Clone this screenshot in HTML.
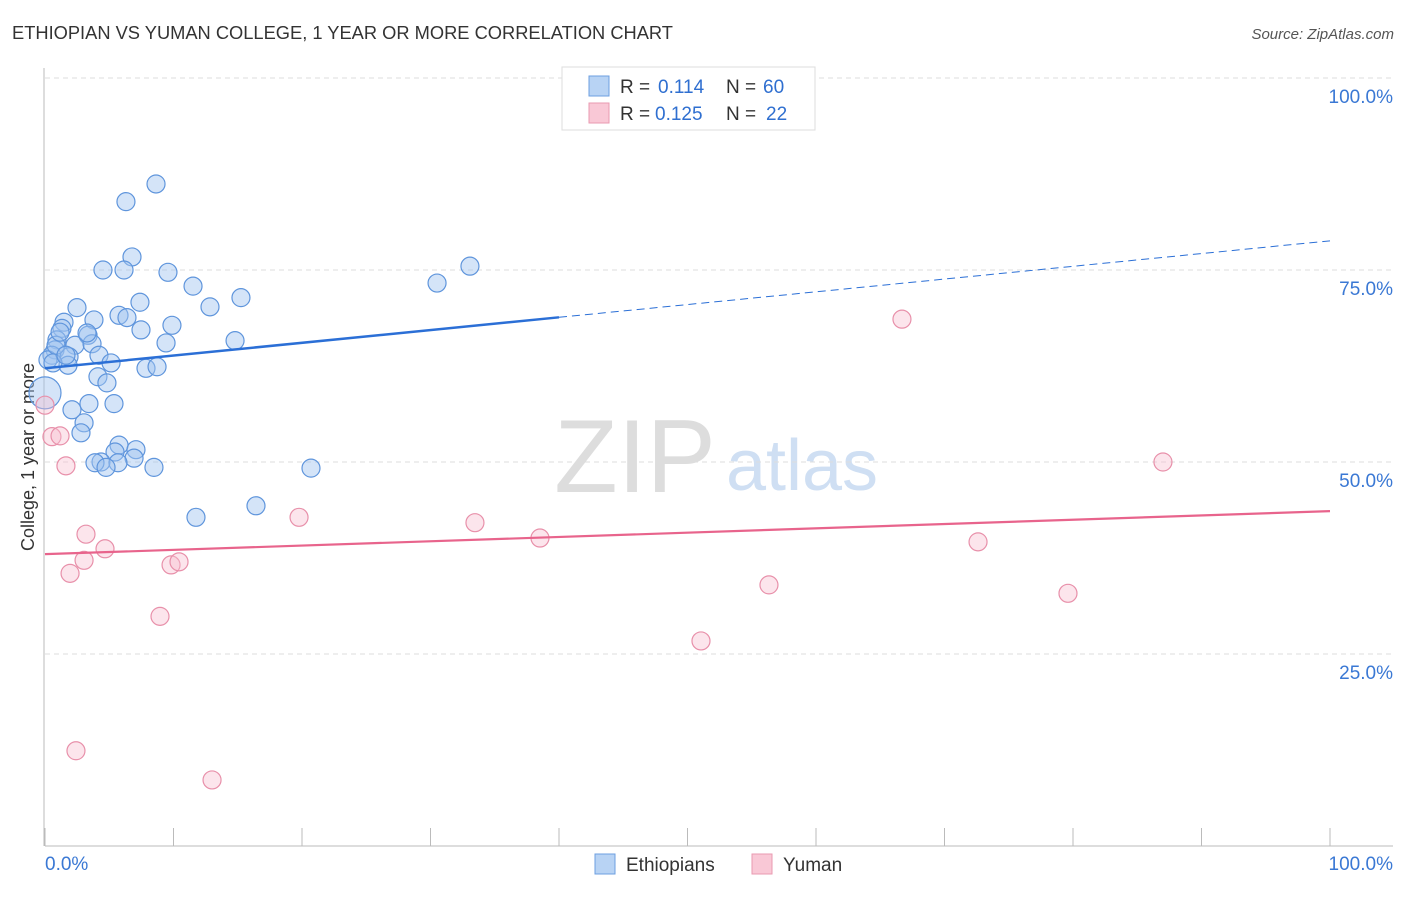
<!DOCTYPE html>
<html><head><meta charset="utf-8"><style>
body{margin:0;background:#fff;font-family:"Liberation Sans",sans-serif}
svg text{font-family:"Liberation Sans",sans-serif}
</style></head><body>
<svg id="c" width="1406" height="892">
<text x="12" y="39" font-size="18.3" fill="#333">ETHIOPIAN VS YUMAN COLLEGE, 1 YEAR OR MORE CORRELATION CHART</text>
<text x="1394" y="39" font-size="15" fill="#555" font-style="italic" text-anchor="end">Source: ZipAtlas.com</text>
<text x="34" y="457" font-size="18" fill="#333" text-anchor="middle" transform="rotate(-90 34 457)">College, 1 year or more</text>
<g><text x="635" y="492" font-size="104" fill="#ddd" font-family="Liberation Serif" text-anchor="middle">ZIP</text><text x="802" y="490" font-size="72" fill="#cfdff3" text-anchor="middle">atlas</text></g>
<g id="grid"></g><g id="marks"></g>
<g>
<rect x="562" y="67" width="253" height="63" fill="#fff" stroke="#ddd"/>
<rect x="589" y="76" width="20" height="20" fill="#b8d3f4" stroke="#6d9fe0"/>
<rect x="589" y="103" width="20" height="20" fill="#f9c8d6" stroke="#e99ab0"/>
<text x="620" y="93" font-size="19" fill="#333">R =</text>
<text x="658" y="93" font-size="19" fill="#2f6fd0">0.114</text>
<text x="726" y="93" font-size="19" fill="#333">N =</text>
<text x="763" y="93" font-size="19" fill="#2f6fd0">60</text>
<text x="620" y="120" font-size="19" fill="#333">R =</text>
<text x="655" y="120" font-size="19" fill="#2f6fd0">0.125</text>
<text x="726" y="120" font-size="19" fill="#333">N =</text>
<text x="766" y="120" font-size="19" fill="#2f6fd0">22</text>
</g>
<g>
<rect x="595" y="854" width="20" height="20" fill="#b8d3f4" stroke="#6d9fe0"/>
<text x="626" y="871" font-size="19" fill="#333">Ethiopians</text>
<rect x="752" y="854" width="20" height="20" fill="#f9c8d6" stroke="#e99ab0"/>
<text x="783" y="871" font-size="19" fill="#333">Yuman</text>
</g>
</svg>
<script>
const blueX=[8.64,6.30,6.77,4.51,6.15,9.57,33.07,30.51,11.52,15.25,7.39,2.49,12.84,5.76,6.38,1.48,3.81,1.32,7.47,9.88,3.35,0.93,14.79,2.33,9.42,3.66,0.78,0.54,4.20,1.87,5.14,1.79,7.86,8.72,4.12,4.82,0,3.42,5.37,2.10,3.04,2.80,5.76,7.08,5.45,6.93,4.36,3.89,5.68,4.75,8.48,20.70,11.75,16.42,0.23,0.86,1.17,3.27,0.62,1.63];
const blueY=[86.2,83.9,76.7,75.0,75.0,74.7,75.5,73.3,72.9,71.4,70.8,70.1,70.2,69.1,68.8,68.2,68.5,67.4,67.2,67.8,66.5,65.9,65.8,65.2,65.5,65.4,64.6,63.9,63.9,63.7,62.9,62.6,62.2,62.4,61.1,60.3,59.0,57.6,57.6,56.8,55.1,53.8,52.2,51.6,51.3,50.5,50.0,49.9,49.9,49.3,49.3,49.2,42.8,44.3,63.3,65.2,66.9,66.8,62.9,63.9];
const pinkX=[0,0.54,1.17,1.63,3.19,4.67,3.04,1.95,9.81,10.43,8.95,2.41,13.0,19.77,33.46,38.52,51.05,56.34,66.69,72.61,79.61,87.0];
const pinkY=[57.4,53.3,53.4,49.5,40.6,38.7,37.2,35.5,36.6,37.0,29.9,12.4,8.6,42.8,42.1,40.1,26.7,34.0,68.6,39.6,32.9,50.0];
const blueTrend=[62.2,78.8];
const pinkTrend=[38.0,43.6];
const yTicks=[25,50,75,100];
const xTickLabels=["0.0%","100.0%"];
const NS="http://www.w3.org/2000/svg";
const X=v=>45+v*12.85, Y=v=>846-v*7.68;
function mk(p,t,a){const e=document.createElementNS(NS,t);for(const k in a)e.setAttribute(k,a[k]);p.appendChild(e);return e;}
const g=document.getElementById('grid'), m=document.getElementById('marks');
yTicks.forEach(v=>{
 const l=mk(g,'line',{x1:45,x2:1393,y1:Y(v),y2:Y(v),stroke:'#ddd','stroke-dasharray':'5,4'});
 
 
 const t=mk(g,'text',{x:1393,y:Y(v)+25,'font-size':19,fill:'#3a78d4','text-anchor':'end'});t.textContent=v.toFixed(1)+'%';
 
 
});
mk(g,'line',{x1:44,x2:44,y1:68,y2:846,stroke:'#bbb'});
mk(g,'line',{x1:45,x2:1393,y1:846,y2:846,stroke:'#bbb'});
for(let i=0;i<=10;i++){mk(g,'line',{x1:X(i*10),x2:X(i*10),y1:828,y2:846,stroke:'#bbb'});}
let t0=mk(g,'text',{x:45,y:870,'font-size':19,fill:'#3a78d4'});t0.textContent=xTickLabels[0];


let t1=mk(g,'text',{x:1393,y:870,'font-size':19,fill:'#3a78d4','text-anchor':'end'});t1.textContent=xTickLabels[1];


blueX.forEach((x,i)=>{const c=mk(m,'circle',{cx:X(x),cy:Y(blueY[i]),r:i==36?16:9,fill:'rgba(160,195,240,0.45)',stroke:'#5f95dc','stroke-width':1.2});
 
 });
pinkX.forEach((x,i)=>{const c=mk(m,'circle',{cx:X(x),cy:Y(pinkY[i]),r:9,fill:'rgba(248,190,208,0.4)',stroke:'#e890aa','stroke-width':1.2});
 
 });
const by=x=>blueTrend[0]+(blueTrend[1]-blueTrend[0])*x/100;
let bl=mk(m,'line',{x1:X(0),y1:Y(by(0)),x2:X(40),y2:Y(by(40)),stroke:'#2b6fd6','stroke-width':2.5});


let bd=mk(m,'line',{x1:X(40),y1:Y(by(40)),x2:X(100),y2:Y(by(100)),stroke:'#2b6fd6','stroke-width':1,'stroke-dasharray':'8,5'});


let pl=mk(m,'line',{x1:X(0),y1:Y(pinkTrend[0]),x2:X(100),y2:Y(pinkTrend[1]),stroke:'#e8648c','stroke-width':2.2});


</script>
</body></html>
